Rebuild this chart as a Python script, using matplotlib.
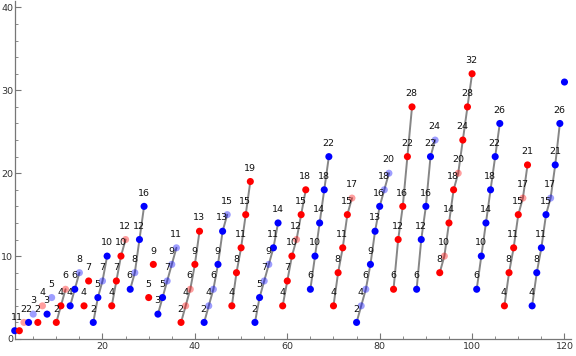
import matplotlib
matplotlib.use("Agg")
import matplotlib.pyplot as plt
from matplotlib.ticker import MultipleLocator

# ---- data ----
xs = list(range(1, 121))
ys = [1, 1, 2, 2, 3, 2, 4, 3, 5, 2,
      4, 6, 4, 6, 8, 4, 7, 2, 5, 7,
      10, 4, 7, 10, 12, 6, 8, 12, 16, 5,
      9, 3, 5, 7, 9, 11, 2, 4, 6, 9,
      13, 2, 4, 6, 9, 13, 15, 4, 8, 11,
      15, 19, 2, 5, 7, 9, 11, 14, 4, 7,
      10, 12, 15, 18, 6, 10, 14, 18, 22, 4,
      8, 11, 15, 17, 2, 4, 6, 9, 13, 16,
      18, 20, 6, 12, 16, 22, 28, 6, 12, 16,
      22, 24, 8, 10, 14, 18, 20, 24, 28, 32,
      6, 10, 14, 18, 22, 26, 4, 8, 11, 15,
      17, 21, 4, 8, 11, 15, 17, 21, 26, 31]
# colour runs (b = blue, r = red), in order of x
color_runs = ["b", "rr", "bb", "rr", "bb", "rrr", "bbb", "rr", "bbbb", "rrrr",
              "bbbb", "rr", "bbbbb", "rrrrr", "bbbbbb", "rrrrr", "bbbbbb",
              "rrrrrr", "bbbbb", "rrrrr", "bbbbbbbb", "rrrrr", "bbbbb",
              "rrrrrrrr", "bbbbbb", "rrrrrr", "bbbbbbbb"]
light_x = [3, 5, 7, 9, 12, 15, 20, 25, 27, 34, 35, 36, 38, 39, 43, 44, 47,
           55, 56, 62, 74, 76, 77, 81, 82, 92, 94, 97, 111, 117]
# connected strands (first x, last x)
strands = [(10, 12), (13, 15), (18, 21), (22, 25), (26, 29), (32, 36),
           (37, 41), (42, 47), (48, 52), (53, 58), (59, 64), (65, 69),
           (70, 74), (75, 82), (83, 87), (88, 92), (93, 100), (101, 106),
           (107, 112), (113, 119)]
unlabeled_x = [120]

codes = "".join(color_runs)
base = {"b": (0, 0, 1), "r": (1, 0, 0)}

fig = plt.figure(figsize=(5.76, 3.56), dpi=100)
ax = fig.add_axes([14.72 / 576, 17 / 356, (571.4 - 14.72) / 576, 338.2 / 356])
ax.set_xlim(1, 121.5)
ax.set_ylim(0, 40.8)

for a, b in strands:
    i0, i1 = a - 1, b
    ax.plot(xs[i0:i1], ys[i0:i1], color="#868686", lw=1.4, zorder=2,
            solid_capstyle="round")

for i, (x, y) in enumerate(zip(xs, ys)):
    c = base[codes[i]]
    alpha = 0.38 if x in light_x else 1.0
    ax.scatter([x], [y], s=26, color=c, alpha=alpha, edgecolors="none",
               zorder=3, clip_on=False)
    if x not in unlabeled_x:
        ax.annotate(str(y), (x, y), xytext=(-0.3, 9.6), textcoords="offset points",
                    ha="center", va="center", fontsize=6.8, color="#111111",
                    zorder=4, annotation_clip=False)

for s in ["top", "right"]:
    ax.spines[s].set_visible(False)
for s in ["left", "bottom"]:
    ax.spines[s].set_color("#777777")
    ax.spines[s].set_linewidth(0.9)

ax.xaxis.set_major_locator(MultipleLocator(20))
ax.xaxis.set_minor_locator(MultipleLocator(5))
ax.yaxis.set_major_locator(MultipleLocator(10))
ax.yaxis.set_minor_locator(MultipleLocator(2))
ax.set_xticks([20, 40, 60, 80, 100, 120])
ax.tick_params(axis="both", which="major", direction="in", length=4, width=0.8,
               color="#777777", labelsize=6.8, labelcolor="#333333", pad=2)
ax.tick_params(axis="both", which="minor", direction="in", length=2.2, width=0.6,
               color="#777777")
ax.tick_params(axis="y", pad=1)

fig.savefig("out.png", dpi=100)
